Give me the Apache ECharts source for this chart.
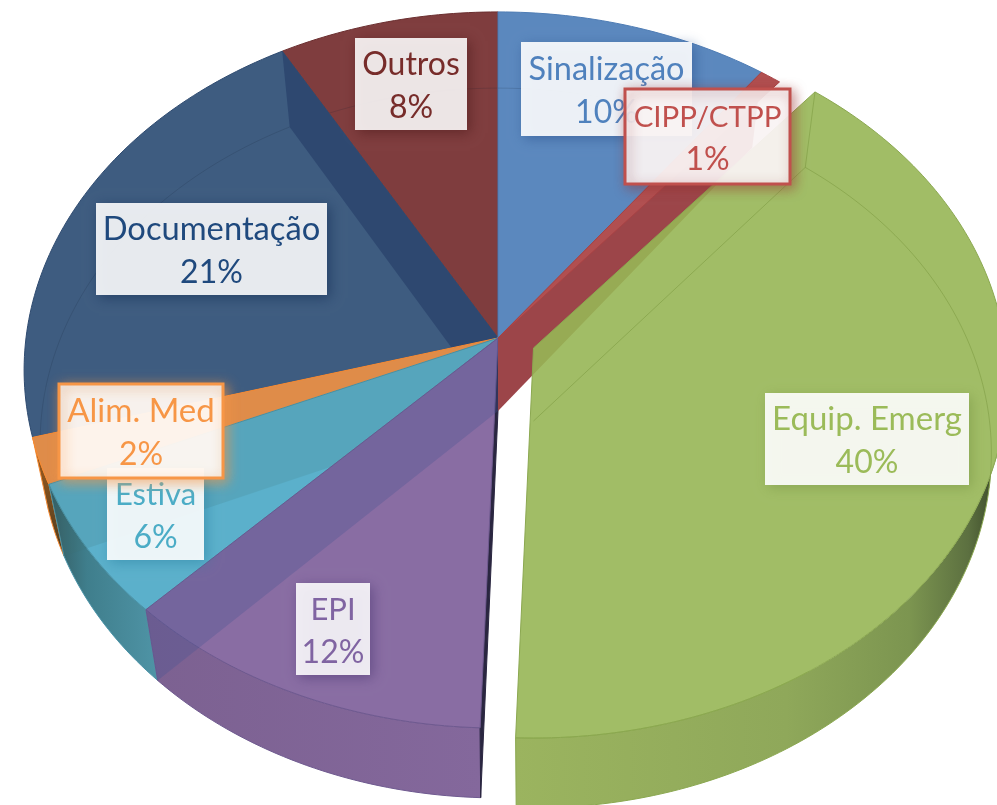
<!DOCTYPE html>
<html><head><meta charset="utf-8">
<style>html,body{margin:0;padding:0;background:#fff}#c{width:997px;height:805px}</style>
<script src="https://cdn.jsdelivr.net/npm/echarts@6/dist/echarts.min.js"></script>
</head><body><div id="c"></div>
<script>
const categories = ['Sinalização','CIPP/CTPP','Equip. Emerg','EPI','Estiva','Alim. Med','Documentação','Outros'];
const values = [10.2, 0.8, 39.55, 11.75, 6.2, 2.1, 21.2, 8.2];
const paintOrder = [7, 6, 5, 4, 3, 0, 1, 2];
const labelOrder = [7, 6, 0, 1, 2, 3, 4, 5];

const faceColors = ['#5B88BE','#B14F50','rgba(151,182,85,0.9)','#896DA3','#5BB0CB','#DF8C49','#3E5C80','#7F3D3E'];
const edgeColors = ['#4F7DB5','#A84244','#8BA850','#6F5A90','#4A93A8','#F68A32','#2F4B70','#6B2F30'];
const bandColors = [null,'#9C4549',null,'rgba(72,84,146,0.32)','rgba(60,110,110,0.16)',null,'#2E4870',null];
const textColors = ['#4F81BD','#C0504D','#9BBB59','#8064A2','#4BACC6','#F79646','#1F497D','#772C2A'];
const shadowColors = ['rgba(40,80,140,0.6)','rgba(150,50,50,0.55)','rgba(110,140,60,0.5)','rgba(70,50,110,0.6)','rgba(40,130,160,0.6)','rgba(247,150,70,0.7)','rgba(15,40,80,0.6)','rgba(70,20,20,0.6)'];
const borderColors = [null,'#C0504D',null,null,null,'#F79646',null,null];
const boxAlpha = [0.9,0.89,0.9,0.88,0.9,0.89,0.89,0.88];
const labelBoxes = [[521,42,171,94],[625,89,165,95],[765,393,204,92],[296,583,74,92],[107,468,97,92],[59,384,164,94],[96,203,231,92],[355,38,112,92]];
const nameFontSizes = [32.5,29.5,33,31,31,33,32.7,32];
const valueFontSize = 32;

const wallFills = {
  2: {type:'linear',x:0,y:0,x2:1,y2:0,colorStops:[{offset:0,color:'#9BB45F'},{offset:.55,color:'#8FA85A'},{offset:.8,color:'#7C9550'},{offset:.92,color:'#5C7040'},{offset:1,color:'#2E3A20'}]},
  3: {type:'linear',x:0,y:0,x2:1,y2:0,colorStops:[{offset:0,color:'#7C6191'},{offset:1,color:'#84689C'}]},
  4: {type:'linear',x:0,y:0,x2:1,y2:0,colorStops:[{offset:0,color:'#335A60'},{offset:.35,color:'#3F7E8C'},{offset:1,color:'#4F94A6'}]},
  5: {type:'linear',x:0,y:0,x2:0,y2:1,colorStops:[{offset:0,color:'#A8601E'},{offset:1,color:'#4A3A20'}]}
};
const wallFrom = {2:0.235};

const total = values.reduce((a,b)=>a+b,0);
const starts = []; values.reduce((a,v,i)=>(starts[i]=a/total,a+v),0);
const topPlane = {cx:498, cy:338, A:472, B:355.2, k:0.0893};
const botPlane = {cx:498, cy:411, A:456, B:352, k:0.0902};
const explode = {2:[35.5,10]};

function project(pl, f, off){
  const t = 2*Math.PI*f, u = Math.sin(t), v = Math.cos(t), w = 1 + pl.k*v;
  return [pl.cx + off[0] + pl.A*u/w, pl.cy + off[1] - pl.B*v/w];
}
function arc(pl, a, b, off){
  const n = Math.max(2, Math.ceil((b-a)*360)), pts = [];
  for(let j=0;j<=n;j++) pts.push(project(pl, a+(b-a)*j/n, off));
  return pts;
}
function renderSlice(params, api){
  const i = api.value(0), a = starts[i], b = a + api.value(1)/total;
  const off = explode[i] || [0,0], ch = [];
  const cT = [topPlane.cx+off[0], topPlane.cy+off[1]], cB = [botPlane.cx+off[0], botPlane.cy+off[1]];
  const poly = (points, style) => ch.push({type:'polygon', shape:{points}, style, silent:true});
  const line = (points, stroke, lineWidth) => ch.push({type:'polyline', shape:{points}, style:{stroke, lineWidth, fill:null}, silent:true});
  if(wallFills[i]){
    const s = wallFrom[i] || a;
    poly(arc(topPlane,s,b,off).concat(arc(botPlane,s,b,off).reverse()), {fill:wallFills[i], stroke:edgeColors[i], lineWidth:1});
  }
  if(i===3) poly([cT, project(topPlane,a,off), project(botPlane,a,off), cB], {fill:'#2A2640', stroke:'#2A2640', lineWidth:1});
  if(i===1) poly([cT, project(topPlane,a,off), project(botPlane,a,off), cB], {fill:bandColors[1]});
  if(i===2) poly(arc(topPlane,a+0.09,a+0.3,off), {fill:'#fff'});
  poly([cT].concat(arc(topPlane,a,b,off)), {fill:faceColors[i], stroke:edgeColors[i], lineWidth:1});
  if(bandColors[i] && i!==1) poly([cT, project(topPlane,b,off), project(botPlane,b,off), cB], {fill:bandColors[i]});
  if(i===2){
    line([project(topPlane,a,off), project(botPlane,a,off), cB], 'rgba(120,150,60,0.5)', 1);
    line(arc(botPlane,a,a+0.17,off), 'rgba(110,140,50,0.4)', 1);
  } else if(i===0 || i===6 || i===7){
    line(arc(botPlane,a,b,off), 'rgba(20,30,50,0.16)', 1);
  }
  return {type:'group', children:ch};
}
function renderLabel(params, api){
  const i = api.value(0), box = labelBoxes[i], ch = [];
  const hasBorder = !!borderColors[i], mx = box[0]+box[2]/2, my = box[1]+box[3]/2;
  ch.push({type:'rect', shape:{x:box[0],y:box[1],width:box[2],height:box[3]},
    style:{fill:'rgba(255,255,255,'+boxAlpha[i]+')', stroke:borderColors[i]||null, lineWidth:hasBorder?3:0,
      shadowBlur:12, shadowColor:shadowColors[i], shadowOffsetX:3, shadowOffsetY:3}, silent:true});
  ch.push({type:'text', style:{text:categories[i], x:mx, y:my-19.5, align:'center', verticalAlign:'middle',
    fill:textColors[i], fontFamily:'Lato', fontSize:nameFontSizes[i]}, silent:true});
  ch.push({type:'text', style:{text:Math.round(values[i]*100/total)+'%', x:mx, y:my+23.5, align:'center', verticalAlign:'middle',
    fill:textColors[i], fontFamily:'Lato', fontSize:valueFontSize}, silent:true});
  return {type:'group', children:ch};
}
const chart = echarts.init(document.getElementById('c'), null, {renderer:'canvas'});
chart.setOption({
  animation:false,
  backgroundColor:'#fff',
  series:[
    {type:'custom', coordinateSystem:'none', renderItem:renderSlice, clip:false, z:1,
     data:paintOrder.map(i=>[i,values[i]])},
    {type:'custom', coordinateSystem:'none', renderItem:renderLabel, clip:false, z:2,
     data:labelOrder.map(i=>[i,values[i]])}
  ]
});
</script></body></html>
